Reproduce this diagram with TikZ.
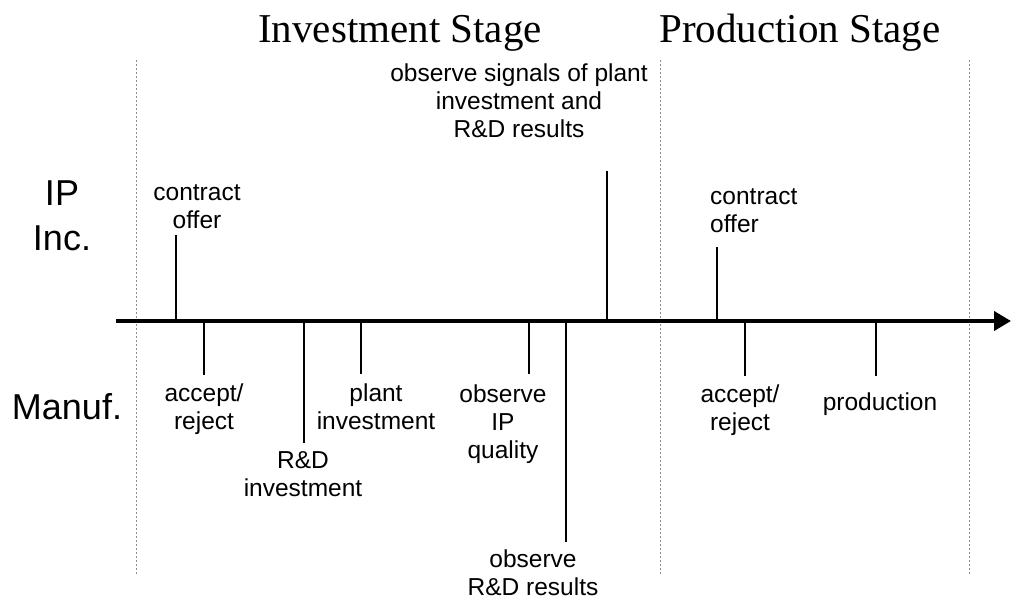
\documentclass[tikz,border=0pt]{standalone}
\usepackage{fontspec}
\setmainfont{Liberation Sans}
\newfontfamily\titlefont{Liberation Serif}
\usetikzlibrary{arrows.meta}
\begin{document}
\begin{tikzpicture}[x=1pt,y=-1pt,
  lbl/.style={font=\fontsize{24.5}{28}\selectfont, align=center, inner sep=0pt},
  role/.style={font=\fontsize{36}{45}\selectfont, align=center, inner sep=0pt},
  title/.style={font=\titlefont\fontsize{41}{48}\selectfont, inner sep=0pt, anchor=base},
  tickline/.style={line width=1.3pt},
  sepline/.style={black!45, line width=0.8pt, dash pattern=on 2pt off 2pt},
  axis/.style={line width=4pt, -{Triangle[length=17pt,width=19pt]}}]
\useasboundingbox (0,0) rectangle (1012,610);

% titles
\node[title] (tinv) at (400,43) {Investment Stage};
\node[title] (tprod) at (800,43) {Production Stage};

% separators
\coordinate (d1t) at (136,60);  \coordinate (d1b) at (136,575);
\coordinate (d2t) at (660,60);  \coordinate (d2b) at (660,575);
\coordinate (d3t) at (969,60);  \coordinate (d3b) at (969,575);
\draw[sepline] (d1t) -- (d1b);
\draw[sepline] (d2t) -- (d2b);
\draw[sepline] (d3t) -- (d3b);

% roles
\node[role] (ip) at (62,216) {IP\\Inc.};
\node[role] (man) at (67,407) {Manuf.};

% axis
\coordinate (a0) at (116,321);
\coordinate (a1) at (1011,321);
\draw[axis] (a0) -- (a1);

% tick coordinates
\coordinate (k1a) at (176,321); \coordinate (k1b) at (176,235);
\coordinate (k2a) at (204,321); \coordinate (k2b) at (204,375);
\coordinate (k3a) at (304,321); \coordinate (k3b) at (304,443);
\coordinate (k4a) at (361,321); \coordinate (k4b) at (361,374);
\coordinate (k5a) at (529,321); \coordinate (k5b) at (529,374);
\coordinate (k6a) at (566,321); \coordinate (k6b) at (566,542);
\coordinate (k7a) at (607,321); \coordinate (k7b) at (607,171);
\coordinate (k8a) at (717,321); \coordinate (k8b) at (717,247);
\coordinate (k9a) at (745,321); \coordinate (k9b) at (745,376);
\coordinate (k10a) at (876,321); \coordinate (k10b) at (876,376);

\foreach \i in {1,...,10} {\draw[tickline] (k\i a) -- (k\i b);}

% labels
\node[lbl] (co1) at (197,207) {contract\\offer};
\node[lbl] (ar1) at (204,409) {accept/\\reject};
\node[lbl] (rd) at (303,474) {R\&D\\investment};
\node[lbl] (pi) at (376,407) {plant\\investment};
\node[lbl] (oiq) at (503,424) {observe\\IP\\quality};
\node[lbl] (ors) at (533,573) {observe\\R\&D results};
\node[lbl] (osig) at (519,101) {observe signals of plant\\investment and\\R\&D results};
\node[lbl, align=left, anchor=west] (co2) at (710,211) {contract\\offer};
\node[lbl] (ar2) at (740,410) {accept/\\reject};
\node[lbl] (prod) at (880,404) {production};
\end{tikzpicture}
\end{document}
